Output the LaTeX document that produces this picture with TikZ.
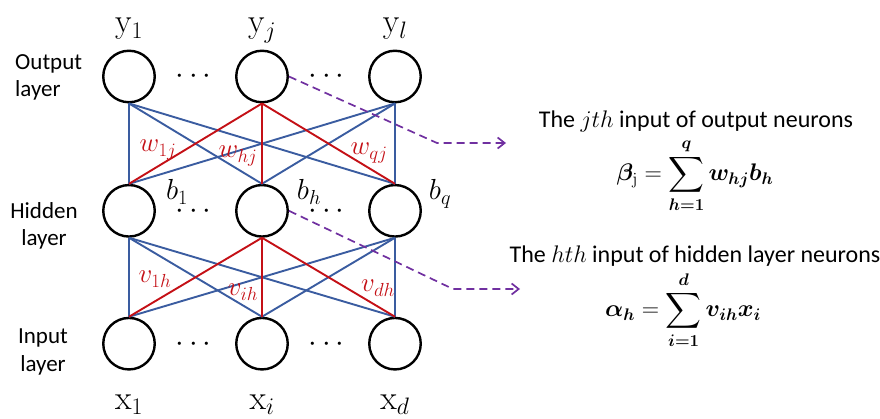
\RequirePackage{fix-cm}
\documentclass[tikz,border=0pt]{standalone}
\usepackage{amsmath}
\usepackage{bm}
\usepackage[no-math]{fontspec}
\setmainfont{Carlito}
\usetikzlibrary{arrows.meta}
\definecolor{nnblue}{RGB}{58,92,160}
\definecolor{nnred}{RGB}{196,16,22}
\definecolor{nnpurple}{RGB}{112,48,160}
\begin{document}
\begin{tikzpicture}[x=1pt,y=-1pt,
  neuron/.style={circle,draw=black,line width=2.4pt,minimum size=51.5pt,inner sep=0pt},
  bw/.style={draw=nnblue,line width=1.9pt},
  rw/.style={draw=nnred,line width=1.9pt},
  biglbl/.style={font=\fontsize{34}{40}\selectfont,inner sep=0pt},
  blbl/.style={font=\fontsize{29}{34}\selectfont,inner sep=0pt},
  wlbl/.style={font=\fontsize{27}{32}\selectfont,text=nnred,inner sep=0pt},
  dotlbl/.style={font=\fontsize{31}{34}\selectfont,inner sep=0pt},
  layerlbl/.style={font=\fontsize{23}{27.5}\selectfont,align=center,inner sep=0pt},
  rtext/.style={font=\fontsize{24}{28}\selectfont,inner sep=0pt},
  flink/.style={draw=nnpurple,line width=1.7pt,dash pattern=on 8pt off 5pt,-{Straight Barb[length=7pt,width=11pt,line width=1.7pt]}}
]
\useasboundingbox (0,0) rectangle (880,419);
% neurons
\node[neuron] (y1) at (129,76.5) {};
\node[neuron] (yj) at (262,76.5) {};
\node[neuron] (yl) at (395,76.5) {};
\node[neuron] (b1) at (129,210.8) {};
\node[neuron] (bh) at (262,210.8) {};
\node[neuron] (bq) at (395,210.8) {};
\node[neuron] (x1) at (129,343.7) {};
\node[neuron] (xi) at (262,343.7) {};
\node[neuron] (xd) at (395,343.7) {};
% blue connections
\foreach \a in {y1,yl}{\foreach \b in {b1,bh,bq}{\draw[bw] (\a.south) -- (\b.north);}}
\foreach \a in {b1,bq}{\foreach \b in {x1,xi,xd}{\draw[bw] (\a.south) -- (\b.north);}}
% red connections
\foreach \b in {b1,bh,bq}{\draw[rw] (yj.south) -- (\b.north);}
\foreach \b in {x1,xi,xd}{\draw[rw] (bh.south) -- (\b.north);}
% dots
\node[dotlbl] (d1) at (196,77) {$\cdots$};
\node[dotlbl] (d2) at (329,77) {$\cdots$};
\node[dotlbl] (d3) at (196,212) {$\cdots$};
\node[dotlbl] (d4) at (329,212) {$\cdots$};
\node[dotlbl] (d5) at (196,345) {$\cdots$};
\node[dotlbl] (d6) at (329,345) {$\cdots$};
% output / input labels
\node[biglbl,anchor=base] (ly1) at (129,33) {$\mathrm{y}_1$};
\node[biglbl,anchor=base] (lyj) at (262,33) {$\mathrm{y}_j$};
\node[biglbl,anchor=base] (lyl) at (395,33) {$\mathrm{y}_l$};
\node[biglbl,anchor=base] (lx1) at (129,409) {$\mathrm{x}_1$};
\node[biglbl,anchor=base] (lxi) at (262,409) {$\mathrm{x}_i$};
\node[biglbl,anchor=base] (lxd) at (395,409) {$\mathrm{x}_d$};
% hidden labels
\node[blbl,anchor=base] (lb1) at (177,200) {$b_1$};
\node[blbl,anchor=base] (lbh) at (309,200) {$b_h$};
\node[blbl,anchor=base] (lbq) at (440,200) {$b_q$};
% weight labels
\node[wlbl,anchor=base] (w1j) at (158,152) {$w_{1j}$};
\node[wlbl,anchor=base] (whj) at (238,158) {$w_{hj}$};
\node[wlbl,anchor=base] (wqj) at (369,155) {$w_{qj}$};
\node[wlbl,anchor=base] (v1h) at (155,283) {$v_{1h}$};
\node[wlbl,anchor=base] (vih) at (243,296) {$v_{ih}$};
\node[wlbl,anchor=base] (vdh) at (378,292) {$v_{dh}$};
% layer labels
\node[layerlbl,align=left,anchor=north west] (lout) at (15,54) {Output\\layer};
\node[layerlbl,anchor=center] (lhid) at (44,226) {Hidden\\layer};
\node[layerlbl,anchor=center] (linp) at (43,352) {Input\\layer};
% right text
\node[rtext,anchor=base] (t1) at (696,128) {The $jth$ input of output neurons};
\node[rtext,anchor=center] (f1) at (695,176) {$\displaystyle \bm{\beta}_{\mathrm{j}}=\sum_{\bm{h=1}}^{\bm{q}}\bm{w_{hj}b_h}$};
\node[rtext,anchor=base] (t2) at (695,263) {The $hth$ input of hidden layer neurons};
\node[rtext,anchor=center] (f2) at (683,310) {$\displaystyle \bm{\alpha_h}=\sum_{\bm{i=1}}^{\bm{d}}\bm{v_{ih}x_i}$};
% dashed links
\coordinate (k1) at (437,143);
\coordinate (e1) at (506,143);
\coordinate (k2) at (453,289);
\coordinate (e2) at (520,289);
\draw[flink] (yj.east) -- (k1) -- (e1);
\draw[flink] (bh.east) -- (k2) -- (e2);
\end{tikzpicture}
\end{document}
